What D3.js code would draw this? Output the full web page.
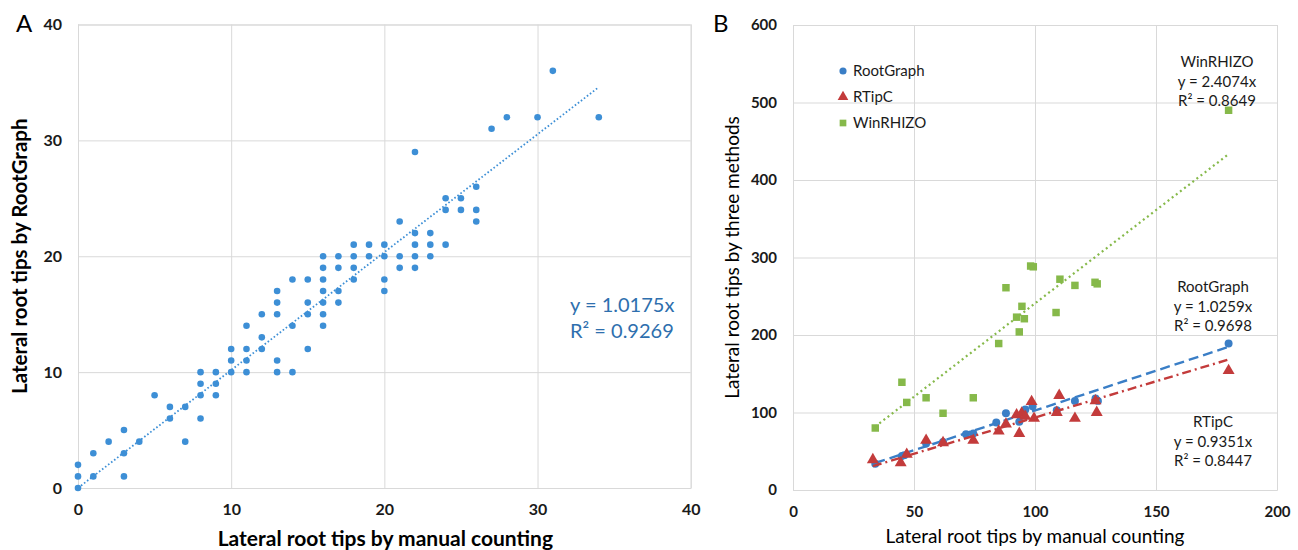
<!DOCTYPE html>
<html>
<head>
<meta charset="utf-8">
<script src="https://cdn.jsdelivr.net/npm/d3@7"></script>
<style>
  body { margin: 0; background: #fff; }
  svg text { font-family: Lato, "Open Sans", sans-serif; }
</style>
</head>
<body>
<div id="chart"></div>
<script>
// Panel A: manual counts vs RootGraph counts (aligned by index)
const manualA = [0, 0, 0, 1, 1, 2, 3, 3, 3, 4, 5, 6, 6, 7, 7, 8, 8, 8, 8, 9, 9, 9,
  10, 10, 10, 11, 11, 11, 11, 12, 12, 12, 13, 13, 13, 13, 13, 14, 14, 14,
  15, 15, 15, 15, 16, 16, 16, 16, 16, 16, 16, 17, 17, 17, 17, 18, 18, 18, 18,
  19, 19, 20, 20, 20, 20, 21, 21, 21, 22, 22, 22, 22, 22, 23, 23, 23,
  24, 24, 24, 25, 25, 26, 26, 26, 27, 28, 30, 31, 34];
const rootGraphA = [0, 1, 2, 1, 3, 4, 1, 3, 5, 4, 8, 6, 7, 4, 7, 6, 8, 9, 10, 8, 9, 10,
  10, 11, 12, 10, 11, 12, 14, 12, 13, 15, 10, 11, 15, 16, 17, 10, 14, 18,
  12, 15, 16, 18, 14, 15, 16, 17, 18, 19, 20, 16, 17, 19, 20, 18, 19, 20, 21,
  20, 21, 17, 18, 20, 21, 19, 20, 23, 19, 20, 21, 22, 29, 20, 21, 22,
  21, 24, 25, 24, 25, 23, 24, 26, 31, 32, 32, 36, 32];
const slopeA = 1.0175;
const eqA = ["y = 1.0175x", "R² = 0.9269"];
const ticksA = [0, 10, 20, 30, 40];

// Panel B: manual counts vs three methods
const rootGraphB = [[34, 34], [45, 44], [46, 45], [55, 60], [62, 62], [71.5, 72], [74.5, 73],
  [84, 87], [88, 99], [93.5, 88], [96, 104], [99, 108], [109, 103], [116.5, 115],
  [125, 118], [126, 115], [180, 189]];
const rtipcB = [[33, 39], [44.5, 35], [47, 46], [55, 64], [62, 61], [74.5, 64], [85, 76],
  [88, 85], [92.4, 97], [93.5, 73], [94.5, 99], [96, 95], [98.6, 114], [99.6, 92.5],
  [109, 100], [110, 122], [116.5, 92.5], [125, 115], [125.5, 100], [180, 154]];
const winRhizoB = [[34, 80], [45, 139], [47, 113], [55, 119], [62, 99], [74.5, 119],
  [85, 189], [88, 261], [92.4, 223], [93.5, 204], [94.6, 237], [95.6, 221],
  [98.2, 289], [99.3, 288], [108.7, 229], [110.3, 272], [116.5, 264], [124.8, 268],
  [125.7, 266], [180, 490]];
const seriesB = ["RootGraph", "RTipC", "WinRHIZO"];
const slopesB = [1.0259, 0.9351, 2.4074];
const eqB = [
  ["RootGraph", "y = 1.0259x", "R² = 0.9698"],
  ["RTipC", "y = 0.9351x", "R² = 0.8447"],
  ["WinRHIZO", "y = 2.4074x", "R² = 0.8649"]
];
const xTicksB = [0, 50, 100, 150, 200];
const yTicksB = [0, 100, 200, 300, 400, 500, 600];

const svg = d3.select("#chart").append("svg")
    .attr("width", 1298)
    .attr("height", 550);

const gridColor = "#d9d9d9";

function styleAxis(g) {
    g.select(".domain").attr("stroke", gridColor);
    g.selectAll(".tick line").attr("stroke", gridColor);
}

// ---------- Panel A ----------
const xA = d3.scaleLinear().domain([0, 40]).range([78, 690.7]);
const yA = d3.scaleLinear().domain([0, 40]).range([488, 24.5]);

svg.append("g")
    .attr("transform", `translate(0,${yA(0)})`)
    .call(d3.axisBottom(xA).tickValues(ticksA).tickSize(yA(40) - yA(0)).tickPadding(16))
    .call(styleAxis)
    .call(g => g.selectAll("text").attr("font-size", 16).attr("font-weight", "bold").attr("fill", "#1a1a1a"));

svg.append("g")
    .attr("transform", `translate(${xA(0)},0)`)
    .call(d3.axisLeft(yA).tickValues(ticksA).tickSize(xA(0) - xA(40)).tickPadding(16))
    .call(styleAxis)
    .call(g => g.selectAll("text").attr("font-size", 16).attr("font-weight", "bold").attr("fill", "#1a1a1a"));

const colorA = "#3d8fd6";

// trend line
const extA = d3.extent(manualA);
svg.append("path")
    .datum(extA)
    .attr("fill", "none")
    .attr("stroke", colorA)
    .attr("stroke-width", 1.8)
    .attr("stroke-dasharray", "1.6,2.2")
    .attr("d", d3.line().x(d => xA(d)).y(d => yA(d * slopeA)));

svg.append("g").selectAll("circle")
    .data(manualA)
    .enter().append("circle")
    .attr("cx", d => xA(d))
    .attr("cy", (d, i) => yA(rootGraphA[i]))
    .attr("r", 3.3)
    .attr("fill", colorA);

svg.append("g").selectAll("text")
    .data(eqA)
    .enter().append("text")
    .attr("x", 570)
    .attr("y", (d, i) => 312 + i * 26)
    .attr("font-size", 20)
    .attr("fill", "#2e6fae")
    .text(d => d);

svg.append("text")
    .attr("x", xA(20) + 1)
    .attr("y", 546)
    .attr("text-anchor", "middle")
    .attr("font-size", 21)
    .attr("font-weight", "bold")
    .text("Lateral root tips by manual counting");

svg.append("text")
    .attr("transform", `translate(27,${yA(20)}) rotate(-90)`)
    .attr("text-anchor", "middle")
    .attr("font-size", 20.5)
    .attr("font-weight", "bold")
    .text("Lateral root tips by RootGraph");

svg.append("text")
    .attr("x", 16)
    .attr("y", 32)
    .attr("font-size", 24)
    .text("A");

// ---------- Panel B ----------
const xB = d3.scaleLinear().domain([0, 200]).range([793, 1277]);
const yB = d3.scaleLinear().domain([0, 600]).range([490, 25]);

svg.append("g")
    .attr("transform", `translate(0,${yB(0)})`)
    .call(d3.axisBottom(xB).tickValues(xTicksB).tickSize(yB(600) - yB(0)).tickPadding(16))
    .call(styleAxis)
    .call(g => g.selectAll("text").attr("font-size", 15).attr("font-weight", "bold").attr("fill", "#1a1a1a"));

svg.append("g")
    .attr("transform", `translate(${xB(0)},0)`)
    .call(d3.axisLeft(yB).tickValues(yTicksB).tickSize(xB(0) - xB(200)).tickPadding(16))
    .call(styleAxis)
    .call(g => g.selectAll("text").attr("font-size", 15).attr("font-weight", "bold").attr("fill", "#1a1a1a"));

const colorsB = ["#3a7ec6", "#c33b3b", "#86b94a"];
const dashesB = ["10,5", "9,4,2,4", "2,3.2"];
const symbolsB = [d3.symbolCircle, d3.symbolTriangle, d3.symbolSquare];
const sizesB = [50, 62, 56];
const dataB = [rootGraphB, rtipcB, winRhizoB];

dataB.forEach((data, k) => {
    const ext = d3.extent(data, d => d[0]);
    svg.append("g").selectAll("path")
        .data(data)
        .enter().append("path")
        .attr("transform", d => `translate(${xB(d[0])},${yB(d[1])})`)
        .attr("d", d3.symbol(symbolsB[k], sizesB[k]))
        .attr("fill", colorsB[k]);
    svg.append("path")
        .datum(ext)
        .attr("fill", "none")
        .attr("stroke", colorsB[k])
        .attr("stroke-width", k === 2 ? 2.2 : 2.4)
        .attr("stroke-dasharray", dashesB[k])
        .attr("d", d3.line().x(d => xB(d)).y(d => yB(d * slopesB[k])));
});

// legend
const legend = svg.append("g")
    .attr("transform", "translate(843,71)");

const legendItems = legend.selectAll("g")
    .data(seriesB)
    .enter().append("g")
    .attr("transform", (d, i) => `translate(0,${i * 26})`);

legendItems.append("path")
    .attr("d", (d, i) => d3.symbol(symbolsB[i], sizesB[i] * 0.8)())
    .attr("fill", (d, i) => colorsB[i]);

legendItems.append("text")
    .attr("x", 10)
    .attr("y", 5)
    .attr("font-size", 15)
    .attr("fill", "#1a1a1a")
    .text(d => d);

// equation labels
const eqPosB = [[1213, 292], [1213, 427], [1217, 67]];
eqB.forEach((lines, k) => {
    svg.append("g").selectAll("text")
        .data(lines)
        .enter().append("text")
        .attr("x", eqPosB[k][0])
        .attr("y", (d, i) => eqPosB[k][1] + i * 19.5)
        .attr("text-anchor", "middle")
        .attr("font-size", 15)
        .attr("fill", "#1a1a1a")
        .text(d => d);
});

svg.append("text")
    .attr("x", xB(100))
    .attr("y", 543)
    .attr("text-anchor", "middle")
    .attr("font-size", 19)
    .text("Lateral root tips by manual counting");

svg.append("text")
    .attr("transform", `translate(739,${yB(300)}) rotate(-90)`)
    .attr("text-anchor", "middle")
    .attr("font-size", 19)
    .text("Lateral root tips by three methods");

svg.append("text")
    .attr("x", 713)
    .attr("y", 32)
    .attr("font-size", 24)
    .text("B");
</script>
</body>
</html>
